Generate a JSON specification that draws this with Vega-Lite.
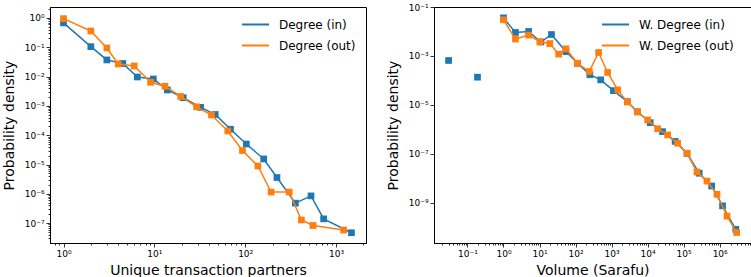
{
  "$schema": "https://vega.github.io/schema/vega-lite/v6.json",
  "padding": {"left": 1, "top": 2, "right": 1, "bottom": 0},
  "background": "white",
  "spacing": 68,
  "bounds": "flush",
  "config": {
    "font": "DejaVu Sans",
    "view": {"stroke": "black", "strokeWidth": 1},
    "axis": {
      "grid": false,
      "labelFont": "DejaVu Sans",
      "labelFontSize": 9,
      "labelColor": "black",
      "labelPadding": 2,
      "labelFlush": false,
      "labelOverlap": false,
      "tickColor": "black",
      "tickWidth": 0.8,
      "domainColor": "black",
      "domainWidth": 1,
      "titleFont": "DejaVu Sans",
      "titleFontSize": 14,
      "titleFontWeight": "normal",
      "titleColor": "black"
    },
    "legend": {
      "orient": "none",
      "title": null,
      "symbolType": "stroke",
      "symbolSize": 729,
      "symbolStrokeWidth": 2,
      "labelFont": "DejaVu Sans",
      "labelFontSize": 12,
      "labelColor": "black",
      "labelOffset": 9,
      "rowPadding": -4,
      "padding": 0
    }
  },
  "datasets": {
    "deg": [
      {"x": 1, "y": 0.68, "series": "Degree (in)", "seg": 0},
      {"x": 2, "y": 0.105, "series": "Degree (in)", "seg": 0},
      {"x": 3, "y": 0.037, "series": "Degree (in)", "seg": 0},
      {"x": 4.5, "y": 0.028, "series": "Degree (in)", "seg": 0},
      {"x": 6.5, "y": 0.0097, "series": "Degree (in)", "seg": 0},
      {"x": 9.75, "y": 0.0083, "series": "Degree (in)", "seg": 0},
      {"x": 13.9, "y": 0.0035, "series": "Degree (in)", "seg": 0},
      {"x": 20.8, "y": 0.0019, "series": "Degree (in)", "seg": 0},
      {"x": 32.3, "y": 0.00089, "series": "Degree (in)", "seg": 0},
      {"x": 46.8, "y": 0.00051, "series": "Degree (in)", "seg": 0},
      {"x": 68.9, "y": 0.00016, "series": "Degree (in)", "seg": 0},
      {"x": 103, "y": 0.00005, "series": "Degree (in)", "seg": 0},
      {"x": 160, "y": 0.0000155, "series": "Degree (in)", "seg": 0},
      {"x": 224, "y": 0.0000036, "series": "Degree (in)", "seg": 0},
      {"x": 357, "y": 4.8e-7, "series": "Degree (in)", "seg": 0},
      {"x": 531, "y": 8.5e-7, "series": "Degree (in)", "seg": 0},
      {"x": 731, "y": 1.4e-7, "series": "Degree (in)", "seg": 0},
      {"x": 1480, "y": 4.7e-8, "series": "Degree (in)", "seg": 0},
      {"x": 1, "y": 0.95, "series": "Degree (out)", "seg": 0},
      {"x": 2, "y": 0.36, "series": "Degree (out)", "seg": 0},
      {"x": 3, "y": 0.095, "series": "Degree (out)", "seg": 0},
      {"x": 4, "y": 0.027, "series": "Degree (out)", "seg": 0},
      {"x": 6, "y": 0.023, "series": "Degree (out)", "seg": 0},
      {"x": 9.1, "y": 0.0064, "series": "Degree (out)", "seg": 0},
      {"x": 13.1, "y": 0.0047, "series": "Degree (out)", "seg": 0},
      {"x": 19.5, "y": 0.0021, "series": "Degree (out)", "seg": 0},
      {"x": 29.2, "y": 0.00093, "series": "Degree (out)", "seg": 0},
      {"x": 42.6, "y": 0.00049, "series": "Degree (out)", "seg": 0},
      {"x": 64.4, "y": 0.00014, "series": "Degree (out)", "seg": 0},
      {"x": 93.4, "y": 0.00003, "series": "Degree (out)", "seg": 0},
      {"x": 138, "y": 0.0000089, "series": "Degree (out)", "seg": 0},
      {"x": 193, "y": 0.00000115, "series": "Degree (out)", "seg": 0},
      {"x": 305, "y": 0.00000115, "series": "Degree (out)", "seg": 0},
      {"x": 416, "y": 1.28e-7, "series": "Degree (out)", "seg": 0},
      {"x": 559, "y": 8.3e-8, "series": "Degree (out)", "seg": 0},
      {"x": 1214, "y": 5.8e-8, "series": "Degree (out)", "seg": 0}
    ],
    "wdeg": [
      {"x": 0.03, "y": 0.00065, "series": "W. Degree (in)", "seg": 1},
      {"x": 0.19, "y": 0.000135, "series": "W. Degree (in)", "seg": 2},
      {"x": 1, "y": 0.036, "series": "W. Degree (in)", "seg": 0},
      {"x": 2.15, "y": 0.0091, "series": "W. Degree (in)", "seg": 0},
      {"x": 5, "y": 0.01, "series": "W. Degree (in)", "seg": 0},
      {"x": 10.9, "y": 0.0037, "series": "W. Degree (in)", "seg": 0},
      {"x": 21.5, "y": 0.0075, "series": "W. Degree (in)", "seg": 0},
      {"x": 54, "y": 0.0015, "series": "W. Degree (in)", "seg": 0},
      {"x": 113, "y": 0.0005, "series": "W. Degree (in)", "seg": 0},
      {"x": 250, "y": 0.00017, "series": "W. Degree (in)", "seg": 0},
      {"x": 500, "y": 0.000105, "series": "W. Degree (in)", "seg": 0},
      {"x": 1130, "y": 0.000038, "series": "W. Degree (in)", "seg": 0},
      {"x": 2740, "y": 0.0000135, "series": "W. Degree (in)", "seg": 0},
      {"x": 5200, "y": 0.0000052, "series": "W. Degree (in)", "seg": 0},
      {"x": 11800, "y": 0.00000186, "series": "W. Degree (in)", "seg": 0},
      {"x": 26000, "y": 8e-7, "series": "W. Degree (in)", "seg": 0},
      {"x": 58000, "y": 3.2e-7, "series": "W. Degree (in)", "seg": 0},
      {"x": 124000, "y": 1.04e-7, "series": "W. Degree (in)", "seg": 0},
      {"x": 270000, "y": 1.6e-8, "series": "W. Degree (in)", "seg": 0},
      {"x": 600000, "y": 4.8e-9, "series": "W. Degree (in)", "seg": 0},
      {"x": 1200000, "y": 7.4e-10, "series": "W. Degree (in)", "seg": 0},
      {"x": 2800000, "y": 8.1e-11, "series": "W. Degree (in)", "seg": 0},
      {"x": 1, "y": 0.03, "series": "W. Degree (out)", "seg": 0},
      {"x": 2.15, "y": 0.0049, "series": "W. Degree (out)", "seg": 0},
      {"x": 5, "y": 0.0071, "series": "W. Degree (out)", "seg": 0},
      {"x": 10.2, "y": 0.0038, "series": "W. Degree (out)", "seg": 0},
      {"x": 19.3, "y": 0.0032, "series": "W. Degree (out)", "seg": 0},
      {"x": 34, "y": 0.00118, "series": "W. Degree (out)", "seg": 0},
      {"x": 54, "y": 0.00195, "series": "W. Degree (out)", "seg": 0},
      {"x": 113, "y": 0.0005, "series": "W. Degree (out)", "seg": 0},
      {"x": 240, "y": 0.00023, "series": "W. Degree (out)", "seg": 0},
      {"x": 436, "y": 0.00138, "series": "W. Degree (out)", "seg": 0},
      {"x": 776, "y": 0.00021, "series": "W. Degree (out)", "seg": 0},
      {"x": 1480, "y": 0.000041, "series": "W. Degree (out)", "seg": 0},
      {"x": 2740, "y": 0.000013, "series": "W. Degree (out)", "seg": 0},
      {"x": 5200, "y": 0.0000051, "series": "W. Degree (out)", "seg": 0},
      {"x": 10000, "y": 0.0000024, "series": "W. Degree (out)", "seg": 0},
      {"x": 19000, "y": 0.00000105, "series": "W. Degree (out)", "seg": 0},
      {"x": 36000, "y": 5.9e-7, "series": "W. Degree (out)", "seg": 0},
      {"x": 68000, "y": 2.7e-7, "series": "W. Degree (out)", "seg": 0},
      {"x": 124000, "y": 1.05e-7, "series": "W. Degree (out)", "seg": 0},
      {"x": 234000, "y": 1.8e-8, "series": "W. Degree (out)", "seg": 0},
      {"x": 444000, "y": 7.6e-9, "series": "W. Degree (out)", "seg": 0},
      {"x": 840000, "y": 2.2e-9, "series": "W. Degree (out)", "seg": 0},
      {"x": 1600000, "y": 2.8e-10, "series": "W. Degree (out)", "seg": 0},
      {"x": 2960000, "y": 6e-11, "series": "W. Degree (out)", "seg": 0}
    ]
  },
  "hconcat": [
    {
      "width": 316,
      "height": 236,
      "data": {"name": "deg"},
      "encoding": {
        "x": {
          "field": "x", "type": "quantitative",
          "scale": {"type": "log", "domain": [0.71, 2140], "nice": false},
          "axis": {
            "title": "Unique transaction partners",
            "titlePadding": 5,
            "values": [0.8, 0.9, 1, 2, 3, 4, 5, 6, 7, 8, 9, 10, 20, 30, 40, 50, 60, 70, 80, 90, 100, 200, 300, 400, 500, 600, 700, 800, 900, 1000, 2000],
            "tickSize": {"condition": {"test": "abs(log(datum.value)/LN10 - round(log(datum.value)/LN10)) < 1e-6", "value": 4}, "value": 2},
            "labelExpr": "(abs(log(datum.value)/LN10 - round(log(datum.value)/LN10)) < 1e-6) ? '10' + (round(log(datum.value)/LN10) < 0 ? '⁻' : '') + ['⁰','¹','²','³','⁴','⁵','⁶','⁷','⁸','⁹'][abs(round(log(datum.value)/LN10))] : ''"
          }
        },
        "y": {
          "field": "y", "type": "quantitative",
          "scale": {"type": "log", "domain": [2.1e-8, 2.37], "nice": false},
          "axis": {
            "title": "Probability density",
            "titlePadding": 8,
            "values": [3e-8, 4e-8, 5e-8, 6e-8, 7e-8, 8e-8, 9e-8, 1e-7, 2e-7, 3e-7, 4e-7, 5e-7, 6e-7, 7e-7, 8e-7, 9e-7, 1e-6, 2e-6, 3e-6, 4e-6, 5e-6, 6e-6, 7e-6, 8e-6, 9e-6, 1e-5, 2e-5, 3e-5, 4e-5, 5e-5, 6e-5, 7e-5, 8e-5, 9e-5, 1e-4, 2e-4, 3e-4, 4e-4, 5e-4, 6e-4, 7e-4, 8e-4, 9e-4, 1e-3, 2e-3, 3e-3, 4e-3, 5e-3, 6e-3, 7e-3, 8e-3, 9e-3, 1e-2, 2e-2, 3e-2, 4e-2, 5e-2, 6e-2, 7e-2, 8e-2, 9e-2, 0.1, 0.2, 0.3, 0.4, 0.5, 0.6, 0.7, 0.8, 0.9, 1, 2],
            "tickSize": {"condition": {"test": "abs(log(datum.value)/LN10 - round(log(datum.value)/LN10)) < 1e-6", "value": 4}, "value": 2},
            "labelExpr": "(abs(log(datum.value)/LN10 - round(log(datum.value)/LN10)) < 1e-6) ? '10' + (round(log(datum.value)/LN10) < 0 ? '⁻' : '') + ['⁰','¹','²','³','⁴','⁵','⁶','⁷','⁸','⁹'][abs(round(log(datum.value)/LN10))] : ''"
          }
        },
        "color": {
          "field": "series", "type": "nominal",
          "scale": {"domain": ["Degree (in)", "Degree (out)"], "range": ["#1f77b4", "#ff7f0e"]},
          "legend": {"legendX": 191, "legendY": 3}
        }
      },
      "layer": [
        {"transform": [{"filter": "datum.series == 'Degree (in)'"}], "mark": {"type": "line", "strokeWidth": 1.5}, "encoding": {"detail": {"field": "seg"}}},
        {"transform": [{"filter": "datum.series == 'Degree (in)'"}], "mark": {"type": "point", "shape": "square", "filled": true, "size": 45, "opacity": 1}},
        {"transform": [{"filter": "datum.series == 'Degree (out)'"}], "mark": {"type": "line", "strokeWidth": 1.5}, "encoding": {"detail": {"field": "seg"}}},
        {"transform": [{"filter": "datum.series == 'Degree (out)'"}], "mark": {"type": "point", "shape": "square", "filled": true, "size": 45, "opacity": 1}}
      ]
    },
    {
      "width": 317,
      "height": 236,
      "data": {"name": "wdeg"},
      "encoding": {
        "x": {
          "field": "x", "type": "quantitative",
          "scale": {"type": "log", "domain": [0.0118, 7400000], "nice": false},
          "axis": {
            "title": "Volume (Sarafu)",
            "titlePadding": 5,
            "values": [0.02, 0.03, 0.04, 0.05, 0.06, 0.07, 0.08, 0.09, 0.1, 0.2, 0.3, 0.4, 0.5, 0.6, 0.7, 0.8, 0.9, 1, 2, 3, 4, 5, 6, 7, 8, 9, 10, 20, 30, 40, 50, 60, 70, 80, 90, 100, 200, 300, 400, 500, 600, 700, 800, 900, 1000, 2000, 3000, 4000, 5000, 6000, 7000, 8000, 9000, 10000, 20000, 30000, 40000, 50000, 60000, 70000, 80000, 90000, 100000, 200000, 300000, 400000, 500000, 600000, 700000, 800000, 900000, 1000000, 2000000, 3000000, 4000000, 5000000, 6000000, 7000000],
            "tickSize": {"condition": {"test": "abs(log(datum.value)/LN10 - round(log(datum.value)/LN10)) < 1e-6", "value": 4}, "value": 2},
            "labelExpr": "(abs(log(datum.value)/LN10 - round(log(datum.value)/LN10)) < 1e-6) ? '10' + (round(log(datum.value)/LN10) < 0 ? '⁻' : '') + ['⁰','¹','²','³','⁴','⁵','⁶','⁷','⁸','⁹'][abs(round(log(datum.value)/LN10))] : ''"
          }
        },
        "y": {
          "field": "y", "type": "quantitative",
          "scale": {"type": "log", "domain": [2.24e-11, 0.1], "nice": false},
          "axis": {
            "title": "Probability density",
            "titlePadding": 8,
            "values": [1e-9, 1e-7, 1e-5, 1e-3, 0.1],
            "tickSize": 4,
            "labelExpr": "'10' + (round(log(datum.value)/LN10) < 0 ? '⁻' : '') + ['⁰','¹','²','³','⁴','⁵','⁶','⁷','⁸','⁹'][abs(round(log(datum.value)/LN10))]"
          }
        },
        "color": {
          "field": "series", "type": "nominal",
          "scale": {"domain": ["W. Degree (in)", "W. Degree (out)"], "range": ["#1f77b4", "#ff7f0e"]},
          "legend": {"legendX": 167, "legendY": 3}
        }
      },
      "layer": [
        {"transform": [{"filter": "datum.series == 'W. Degree (in)'"}], "mark": {"type": "line", "strokeWidth": 1.5}, "encoding": {"detail": {"field": "seg"}}},
        {"transform": [{"filter": "datum.series == 'W. Degree (in)'"}], "mark": {"type": "point", "shape": "square", "filled": true, "size": 45, "opacity": 1}},
        {"transform": [{"filter": "datum.series == 'W. Degree (out)'"}], "mark": {"type": "line", "strokeWidth": 1.5}, "encoding": {"detail": {"field": "seg"}}},
        {"transform": [{"filter": "datum.series == 'W. Degree (out)'"}], "mark": {"type": "point", "shape": "square", "filled": true, "size": 45, "opacity": 1}}
      ]
    }
  ],
  "resolve": {"scale": {"color": "independent"}}
}
